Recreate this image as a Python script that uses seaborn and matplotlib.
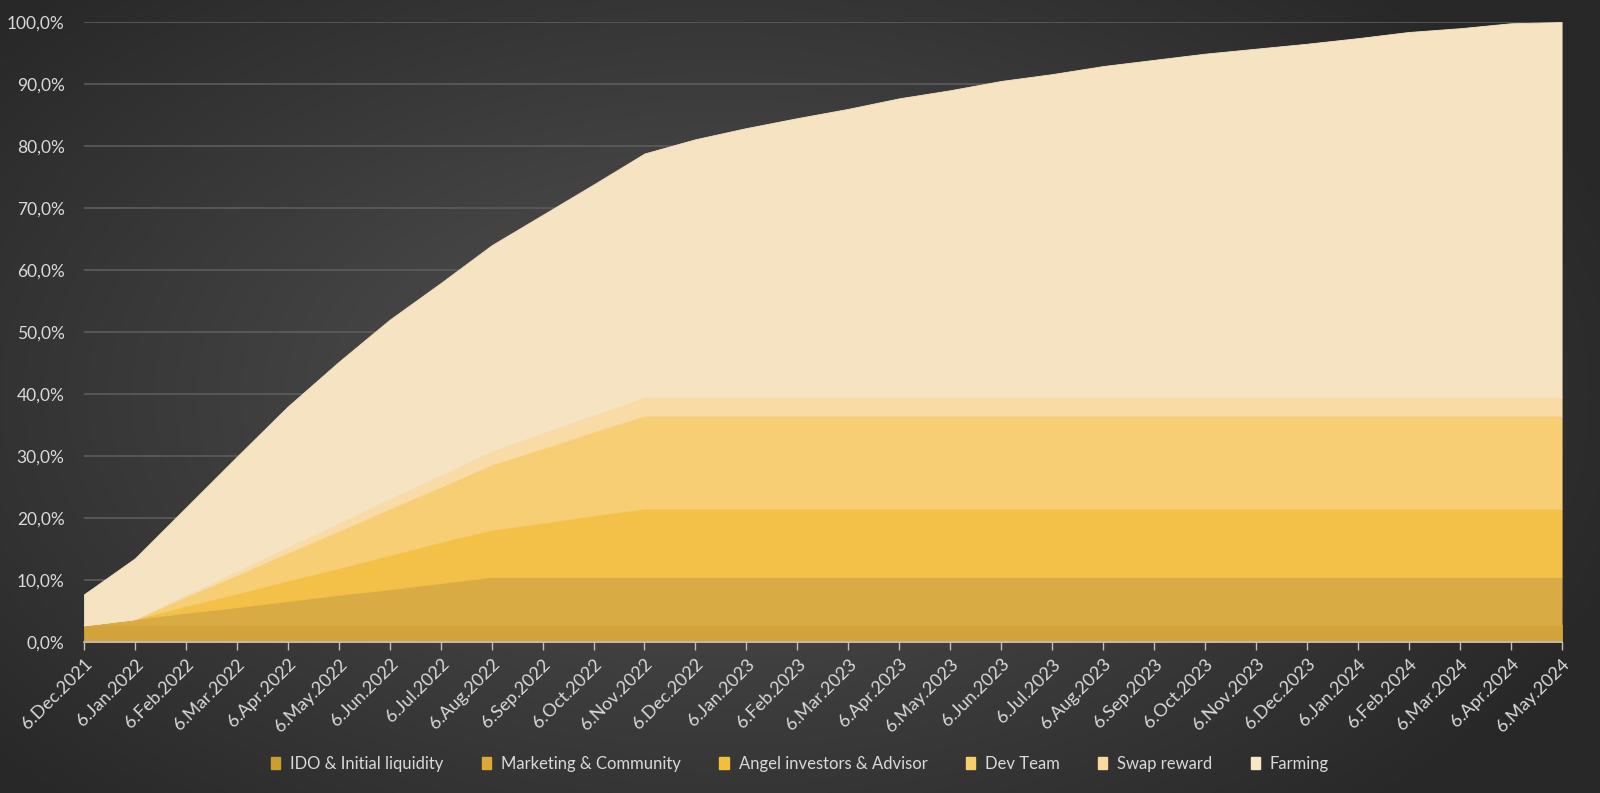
import numpy as np
import pandas as pd
import matplotlib
matplotlib.use("Agg")
import matplotlib.pyplot as plt
from matplotlib.colors import LinearSegmentedColormap
import seaborn as sns

dates = ["6.Dec.2021", "6.Jan.2022", "6.Feb.2022", "6.Mar.2022", "6.Apr.2022", "6.May.2022",
         "6.Jun.2022", "6.Jul.2022", "6.Aug.2022", "6.Sep.2022", "6.Oct.2022", "6.Nov.2022",
         "6.Dec.2022", "6.Jan.2023", "6.Feb.2023", "6.Mar.2023", "6.Apr.2023", "6.May.2023",
         "6.Jun.2023", "6.Jul.2023", "6.Aug.2023", "6.Sep.2023", "6.Oct.2023", "6.Nov.2023",
         "6.Dec.2023", "6.Jan.2024", "6.Feb.2024", "6.Mar.2024", "6.Apr.2024", "6.May.2024"]

ido = [2.7] * 30
marketing = [0, 1.0, 2.0, 2.9, 3.9, 4.9, 5.8, 6.8, 7.8] + [7.8] * 21
angel = [0, 0, 1.1, 2.2, 3.3, 4.3, 5.5, 6.6, 7.6, 8.7, 9.9, 11.0] + [11.0] * 18
dev_team = [0, 0, 1.5, 3.0, 4.5, 6.0, 7.5, 8.9, 10.5, 12.0, 13.5, 15.0] + [15.0] * 18
swap = [0, 0, 0.3, 0.6, 0.9, 1.3, 1.6, 1.9, 2.2, 2.5, 2.7, 3.0] + [3.0] * 18
farming = [5.0, 9.8, 14.1, 18.5, 22.7, 26.0, 28.9, 31.0, 33.2, 35.2, 37.2, 39.3,
           41.6, 43.4, 45.0, 46.5, 48.2, 49.5, 51.0, 52.1, 53.4, 54.4, 55.4, 56.2,
           57.0, 57.9, 58.9, 59.5, 60.3, 60.5]

series_names = ["IDO & Initial liquidity", "Marketing & Community", "Angel investors & Advisor",
                "Dev Team", "Swap reward", "Farming"]
legend_colors = ["#C99F2F", "#DCA836", "#F3BF3B", "#F8CF6C", "#F9D99C", "#F9E6C6"]
fill_colors = ["#D2A33B", "#D8AB45", "#F3C048", "#F7CE73", "#F9DBA5", "#F6E3C1"]

df = pd.DataFrame({"date": dates, "IDO": ido, "Marketing": marketing, "Angel": angel,
                   "Dev": dev_team, "Swap": swap, "Farming": farming})

sns.set_theme(style="dark")
plt.rcParams['font.family'] = ['Lato', 'DejaVu Sans']

fig = plt.figure(figsize=(16, 7.93), dpi=100)

# background gradient
bg = fig.add_axes([0, 0, 1, 1], zorder=-10)
yy, xx = np.mgrid[0:1:400j, 0:1:800j]
r = np.sqrt(((xx - 0.45) / 0.75) ** 2 + ((yy - 0.5) / 0.9) ** 2)
cmap_bg = LinearSegmentedColormap.from_list("bg", ["#545454", "#3e3e3e", "#282828"])
bg.imshow(r, cmap=cmap_bg, aspect="auto", extent=[0, 1, 0, 1], vmin=0, vmax=0.8)
bg.set_axis_off()

ax = fig.add_axes([0.0525, 0.1904, 0.9235, 0.7818])
ax.set_facecolor((0, 0, 0, 0))
x = np.arange(len(dates))
vals = [np.array(df[c]) / 100.0 for c in ["IDO", "Marketing", "Angel", "Dev", "Swap", "Farming"]]
polys = ax.stackplot(x, *vals, colors=fill_colors, labels=series_names, zorder=3)
for p, c in zip(polys, fill_colors):
    p.set_edgecolor(c)
    p.set_linewidth(0.6)

ax.set_xlim(0, len(dates) - 1)
ax.set_ylim(0, 1.0)
ax.set_yticks(np.arange(0, 1.01, 0.1))
ax.set_yticklabels([f"{int(round(v*100))},0%" for v in np.arange(0, 1.01, 0.1)])
ax.set_xticks(x)
ax.set_xticklabels(dates, rotation=45, ha="right", rotation_mode="anchor")

ax.grid(axis="y", color="#5c5c5c", linewidth=1.2, zorder=0)
ax.grid(axis="x", visible=False)
for s in ["top", "right", "left"]:
    ax.spines[s].set_visible(False)
ax.spines["bottom"].set_visible(True)
ax.spines["bottom"].set_color("#bfbfbf")
ax.spines["bottom"].set_linewidth(1.2)
ax.spines["bottom"].set_zorder(5)

ax.tick_params(axis="x", colors="#bfbfbf", labelcolor="#d9d9d9", labelsize=13,
               length=6, width=1, direction="out", bottom=True, pad=4)
ax.tick_params(axis="y", labelcolor="#d9d9d9", labelsize=12.5, length=0, pad=14)
ax.set_xlabel("")
ax.set_ylabel("")

handles = [plt.Rectangle((0, 0), 1, 1, color=c) for c in legend_colors]
leg = fig.legend(handles, series_names, loc="center", bbox_to_anchor=(0.5, 0.037), ncol=6,
                 frameon=False, fontsize=12, handlelength=0.55, handleheight=0.75,
                 columnspacing=2.3, handletextpad=0.6)
for t in leg.get_texts():
    t.set_color("#d9d9d9")

fig.savefig("out.png", dpi=100)
